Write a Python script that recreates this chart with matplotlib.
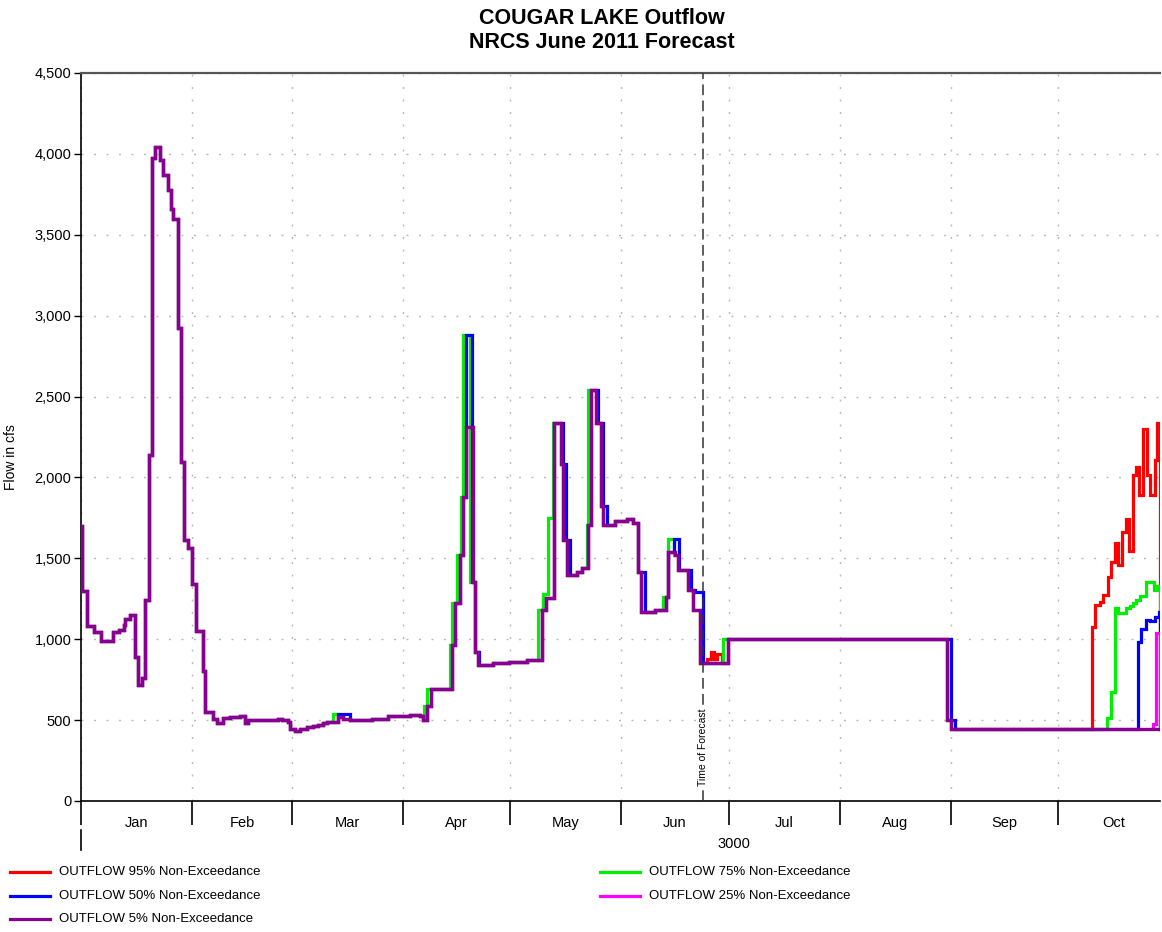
import numpy as np
import matplotlib
matplotlib.use("Agg")
import matplotlib.pyplot as plt
from matplotlib.lines import Line2D
from matplotlib.ticker import FuncFormatter
import matplotlib.transforms as mtransforms

plt.rcParams['font.family'] = ['Liberation Sans', 'DejaVu Sans']

# days since Jan 1 of year 3000 (non leap year)
END_DAY = 301.5
FORECAST_DAY = 173.7
month_starts = [0, 31, 59, 90, 120, 151, 181, 212, 243, 273]
month_names = ['Jan', 'Feb', 'Mar', 'Apr', 'May', 'Jun', 'Jul', 'Aug', 'Sep', 'Oct']

# 5% trace, (day, cfs) step breakpoints; the other traces follow it except in their patches
base_5pct = [
    (0.0, 1700), (0.4, 1300), (1.6, 1083), (3.7, 1046), (5.7, 991), (8.9, 1046),
    (10.5, 1060), (11.9, 1090), (12.3, 1123), (13.7, 1148), (15.1, 891), (16.0, 720),
    (17.0, 760), (17.9, 1245), (19.0, 2138), (19.7, 3975), (20.7, 4042), (22.0, 3960),
    (23.0, 3871), (24.2, 3775), (25.1, 3660), (25.8, 3598), (27.0, 2926), (28.0, 2095),
    (28.9, 1612), (30.0, 1563), (30.9, 1339), (32.0, 1052), (34.0, 805), (34.6, 551),
    (37.0, 505), (37.9, 484), (39.7, 511), (41.6, 517), (44.5, 525), (45.7, 484),
    (46.8, 500), (55.1, 505), (56.3, 500), (57.9, 490), (58.4, 443), (59.7, 434),
    (61.2, 443), (63.1, 455), (64.9, 462), (66.3, 469), (67.7, 484), (68.6, 491),
    (71.7, 521), (73.3, 507), (75.1, 500), (81.2, 509), (85.9, 525), (91.9, 533),
    (94.8, 525), (95.7, 500), (96.6, 587), (97.7, 690), (103.7, 964), (104.5, 1226),
    (105.9, 1520), (106.8, 1881), (107.7, 2312), (109.4, 1355), (110.0, 923), (111.0, 840),
    (115.2, 850), (119.7, 860), (124.7, 870), (128.8, 1183), (130.0, 1252), (132.2, 2338),
    (134.0, 2083), (134.8, 1613), (135.7, 1397), (138.5, 1415), (139.9, 1438), (141.8, 1706),
    (142.4, 2540), (144.0, 2338), (145.2, 1823), (145.8, 1706), (149.2, 1730), (152.5, 1745),
    (154.3, 1720), (155.7, 1417), (156.6, 1169), (160.3, 1180), (163.4, 1262), (163.9, 1540),
    (165.9, 1519), (166.9, 1428), (169.7, 1304), (171.1, 1180), (172.9, 851), (180.7, 1000),
    (241.9, 500), (243.0, 445),
]

# patches: (day, cfs) ..., last entry is where the trace rejoins the 5% trace
red_patches = [
    [(173.7, 851), (174.8, 880), (175.9, 922), (176.8, 880), (177.6, 910), (179.0, 851), (180.7, None)],
    [(282.5, 1076), (283.4, 1210), (284.6, 1231), (285.7, 1273), (286.9, 1386), (287.8, 1478),
     (288.9, 1592), (289.8, 1459), (290.8, 1663), (292.0, 1746), (292.9, 1546), (294.0, 2015),
     (294.9, 2062), (295.7, 1891), (296.8, 2297), (297.9, 2015), (298.8, 1891), (300.1, 2107),
     (300.7, 2334), (END_DAY, None)],
]
green_patches = [
    [(70.5, 538), (71.7, None)],
    [(95.9, 587), (96.6, 690), (97.7, None)],
    [(103.1, 964), (103.7, 1226), (105.0, 1520), (106.2, 1881), (106.8, 2880), (108.8, 1355), (109.4, None)],
    [(127.7, 1183), (129.0, 1279), (130.6, 1747), (131.8, 2338), (132.2, None)],
    [(141.4, 1706), (141.7, 2540), (142.4, None)],
    [(162.5, 1262), (163.9, 1622), (165.7, 1519), (165.9, None)],
    [(179.4, 1000), (180.7, None)],
    [(286.6, 510), (287.8, 675), (288.9, 1190), (289.8, 1163), (292.0, 1190), (293.1, 1205),
     (294.0, 1225), (294.9, 1242), (295.9, 1267), (297.5, 1355), (299.9, 1304), (300.7, 1329),
     (END_DAY, None)],
]
blue_patches = [
    [(71.7, 538), (75.1, None)],
    [(107.7, 2880), (109.2, 1355), (110.2, 923), (111.2, None)],
    [(134.0, 2338), (134.8, 2083), (135.5, 1613), (136.6, None)],
    [(144.0, 2540), (144.4, 2338), (145.8, 1823), (147.1, None)],
    [(156.6, 1417), (157.6, None)],
    [(165.7, 1622), (167.1, 1428), (170.4, 1304), (171.6, 1290), (173.7, None)],
    [(241.9, 1000), (243.0, 500), (244.1, None)],
    [(295.4, 983), (296.3, 1066), (297.5, 1121), (298.6, 1110), (300.1, 1138), (301.1, 1169),
     (END_DAY, None)],
]
magenta_patches = [
    [(299.6, 479), (300.5, 1041), (END_DAY, None)],
]

labels = ['OUTFLOW 95% Non-Exceedance', 'OUTFLOW 75% Non-Exceedance',
          'OUTFLOW 50% Non-Exceedance', 'OUTFLOW 25% Non-Exceedance',
          'OUTFLOW 5% Non-Exceedance']
colors = ['#ff0000', '#00ee00', '#0000ff', '#ff00ff', '#87008f']
patch_sets = [red_patches, green_patches, blue_patches, magenta_patches, []]


def build_series(base, patches):
    bd = np.array([p[0] for p in base])
    bv = np.array([p[1] for p in base], dtype=float)
    knots = set(bd.tolist())
    for patch in patches:
        knots.update(p[0] for p in patch)
    knots.add(END_DAY)
    t = np.array(sorted(knots))
    v = bv[np.searchsorted(bd, t, side='right') - 1]
    for patch in patches:
        pdays = np.array([p[0] for p in patch[:-1]])
        pvals = np.array([p[1] for p in patch[:-1]], dtype=float)
        inside = (t >= patch[0][0]) & (t < patch[-1][0])
        v[inside] = pvals[np.searchsorted(pdays, t[inside], side='right') - 1]
    return t, v


W, H = 1162, 932
fig = plt.figure(figsize=(W / 100, H / 100), dpi=100)
ax = fig.add_axes([81 / W, 1 - 801 / H, 1079 / W, 728 / H])

for i, (patches, color, label) in enumerate(zip(patch_sets, colors, labels)):
    t, v = build_series(base_5pct, patches)
    ax.plot(t, v, drawstyle='steps-post', color=color, lw=2.3, label=label,
            zorder=3 + i, solid_joinstyle='miter')

# time of forecast
ax.axvline(FORECAST_DAY, color='#333333', lw=1.1, dashes=(7, 3.5), zorder=10)
ax.text(FORECAST_DAY, 90, 'Time of Forecast', rotation=90, ha='center', va='bottom',
        fontsize=7.5, zorder=11,
        bbox=dict(facecolor='white', edgecolor='none', pad=0.5))

ax.set_xlim(0, END_DAY)
ax.set_ylim(0, 4500)

# y axis
ax.set_yticks(np.arange(0, 4501, 500))
ax.yaxis.set_major_formatter(FuncFormatter(lambda v, p: '{:,.0f}'.format(v)))
ax.tick_params(axis='y', length=5, width=1, labelsize=10.5, pad=2)
ax.set_ylabel('Flow in cfs', fontsize=10)
ax.yaxis.set_label_coords(-0.0584, 0.4725)

# x axis: month boundaries as major ticks, names centered between
ax.set_xticks(month_starts)
ax.set_xticklabels([])
mids = [(a + b) / 2 for a, b in zip(month_starts, month_starts[1:] + [304])]
ax.set_xticks(mids, minor=True)
ax.set_xticklabels(month_names, minor=True)
ax.tick_params(axis='x', which='major', length=17, width=1.2, direction='out')
ax.tick_params(axis='x', which='minor', length=0, labelsize=10.5, pad=10.5)

# year row
trans = mtransforms.blended_transform_factory(ax.transData, ax.transAxes)
ax.text(182.5, -0.0595, '3000', transform=trans, ha='center', va='center', fontsize=10.5)
ax.plot([0, 0], [-0.040, -0.067], transform=trans, color='black', lw=1.2, clip_on=False)

# grid
ax.set_axisbelow(True)
ax.grid(True, which='major', color='#b8b8b8', lw=1, linestyle=(0, (1.4, 7.6)))

for side in ['right']:
    ax.spines[side].set_visible(False)
ax.spines['top'].set_color('#555555')
ax.spines['top'].set_linewidth(1.6)
ax.spines['left'].set_linewidth(1.2)
ax.spines['bottom'].set_linewidth(1.2)

# titles
fig.text(602 / W, 1 - 19 / H, 'COUGAR LAKE Outflow', ha='center', va='center',
         fontsize=15.5, fontweight='bold')
fig.text(602 / W, 1 - 43 / H, 'NRCS June 2011 Forecast', ha='center', va='center',
         fontsize=15.5, fontweight='bold')

# legend, two columns
legend_slots = [(10, 872), (600, 872), (10, 896), (600, 896), (10, 919)]
for (lx, ly), color, label in zip(legend_slots, colors, labels):
    fig.add_artist(Line2D([lx / W, (lx + 40) / W], [1 - ly / H, 1 - ly / H],
                          color=color, lw=2.3, transform=fig.transFigure))
    fig.text((lx + 49) / W, 1 - ly / H, label, ha='left', va='center', fontsize=9.5)

fig.savefig('out.png', dpi=100)
